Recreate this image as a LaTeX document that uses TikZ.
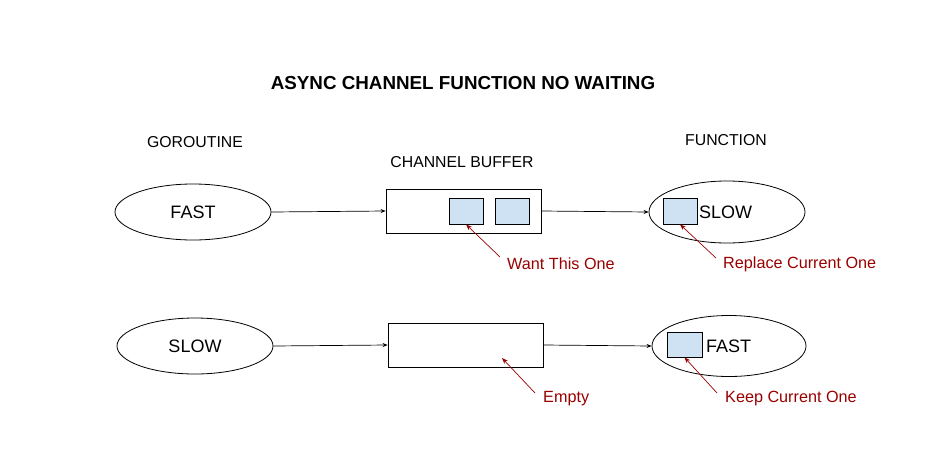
\documentclass[tikz,border=0pt]{standalone}
\usepackage{fontspec}
\setmainfont{Liberation Sans}
\usetikzlibrary{shapes.geometric,arrows.meta}
\definecolor{annred}{HTML}{990000}
\definecolor{bufblue}{HTML}{CFE2F3}
\tikzset{
  oval/.style={draw,ellipse,line width=0.8pt,minimum width=156pt,minimum height=56pt,inner sep=0pt,font=\fontsize{18}{20}\selectfont},
  bufbox/.style={draw,line width=0.8pt,minimum width=155pt,minimum height=44pt,inner sep=0pt},
  item/.style={draw,line width=0.8pt,fill=bufblue,minimum width=34pt,minimum height=26pt,inner sep=0pt},
  flow/.style={line width=0.7pt,-{Stealth[length=5pt,width=4pt]}},
  note/.style={annred,line width=0.7pt,-{Stealth[length=6pt,width=4.5pt]}},
  notetext/.style={text=annred,anchor=west,font=\fontsize{16.2}{18}\selectfont,inner sep=0pt},
  head/.style={font=\fontsize{15.8}{18}\selectfont,inner sep=0pt}
}
\begin{document}
\begin{tikzpicture}[x=1pt,y=-1pt]
\useasboundingbox (0,0) rectangle (948,453);
\node[font=\bfseries\fontsize{18.8}{21}\selectfont,inner sep=0pt] (title) at (463,83) {ASYNC CHANNEL FUNCTION NO WAITING};
\node[head] (hgo) at (195,142) {GOROUTINE};
\node[head] (hch) at (462,162) {CHANNEL BUFFER};
\node[head] (hfn) at (726,140) {FUNCTION};
% row 1
\node[oval] (g1) at (193,212) {FAST};
\node[bufbox] (b1) at (463.5,211) {};
\node[item] (i1) at (466,211) {};
\node[item] (i2) at (512.5,211) {};
\node[oval,minimum width=156pt,minimum height=62pt] (f1) at (727,212) {};
\node[item] (fi1) at (680,211) {};
\node[font=\fontsize{18}{20}\selectfont,anchor=west,inner sep=0pt] (s1) at (699,212) {SLOW};
\draw[flow] (g1.east) -- (b1.west);
\draw[flow] (b1.east) -- (f1.west);
\node[notetext] (n1) at (507,264) {Want This One};
\coordinate (n1s) at (500,257);
\draw[note] (n1s) -- (i1.south);
\node[notetext] (n2) at (723,264) {Replace Current One};
\coordinate (n2s) at (716,258);
\draw[note] (n2s) -- (fi1.south);
% row 2
\node[oval] (g2) at (195,346) {SLOW};
\node[bufbox] (b2) at (465.5,345) {};
\node[oval,minimum width=154pt,minimum height=61pt] (f2) at (729,346) {};
\node[item,minimum width=35pt,minimum height=25pt] (fi2) at (684.5,344.5) {};
\node[font=\fontsize{18}{20}\selectfont,anchor=west,inner sep=0pt] (s2) at (706,346) {FAST};
\draw[flow] (g2.east) -- (b2.west);
\draw[flow] (b2.east) -- (f2.west);
\node[notetext] (n3) at (543,399) {Empty};
\coordinate (n3s) at (535,393);
\coordinate (n3e) at (502,358);
\draw[note] (n3s) -- (n3e);
\node[notetext] (n4) at (725,399) {Keep Current One};
\coordinate (n4s) at (717,393);
\draw[note] (n4s) -- (fi2.south);
\end{tikzpicture}
\end{document}
